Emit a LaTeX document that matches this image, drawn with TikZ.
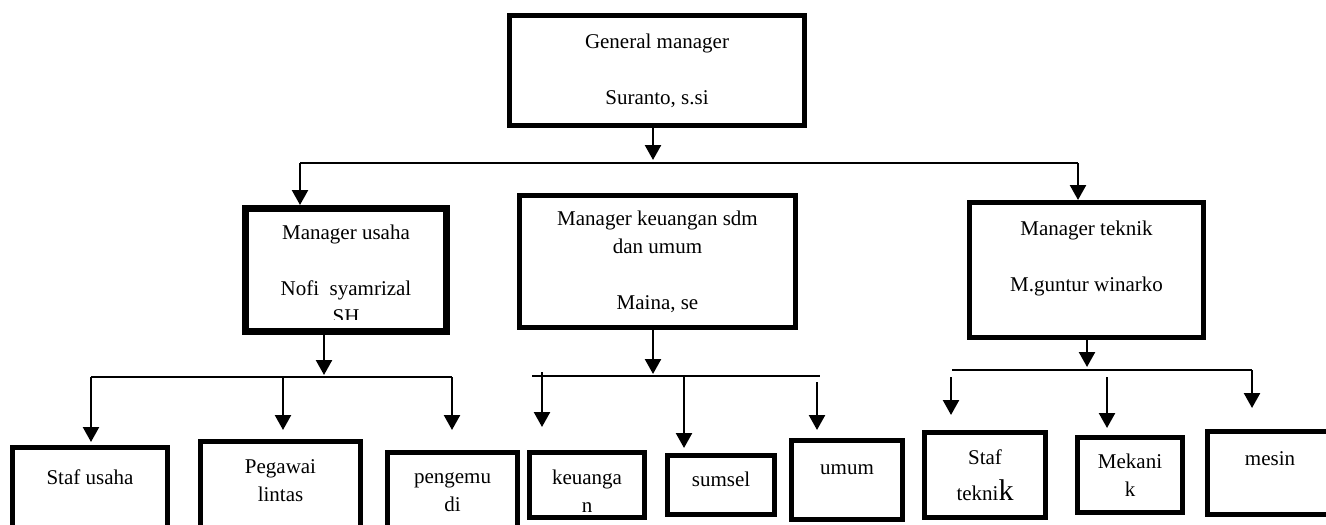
\documentclass[tikz,border=0pt]{standalone}
\usepackage{fontspec}
\setmainfont{Liberation Serif}
\usetikzlibrary{arrows.meta}

\tikzset{
  box/.style={draw, line width=2.5pt, align=center, inner sep=0pt,
    font=\fontsize{10.5}{14}\selectfont},
  bus/.style={line width=0.8pt},
  arr/.style={line width=1.2pt, -{Triangle[width=8pt,length=7.5pt]}},
}

\begin{document}
\begin{tikzpicture}[x=0.5pt,y=-0.5pt]
        \useasboundingbox (0,0) rectangle (1326,524);
        \clip (0,0) rectangle (1326,524);
        % managers
        \node[box, minimum width=147.5pt, minimum height=55pt] (gm) at (657,70.5) {General manager\\[14pt]Suranto, s.si};
        \node[box, line width=3.5pt, minimum width=100.5pt, minimum height=61.5pt] (usaha) at (346,270) {\rule{0pt}{12pt}Manager usaha\\[14pt]Nofi\ \ syamrizal\\SH};
        \node[box, minimum width=138pt, minimum height=66pt] (keu) at (657.5,261.5) {Manager keuangan sdm\\dan umum\\[14pt]Maina, se};
        \node[box, minimum width=117pt, minimum height=67.5pt] (teknik) at (1086.5,270) {Manager teknik\\[14pt]M.guntur winarko\\\mbox{}};
        % SH is cut off by the box
        \fill[white] (249,320) rectangle (443,327.5);
        % staff
        \node[box, minimum width=77.5pt, minimum height=57.5pt] (stafusaha) at (90,505) {Staf usaha\\\mbox{}\\\mbox{}};
        \node[box, minimum width=80pt, minimum height=53pt] (pegawai) at (280.5,494.5) {Pegawai\\lintas\\\mbox{}};
        \node[box, minimum width=65pt, minimum height=53.5pt] (pengemudi) at (452.5,506) {pengemu\\di\\\mbox{}};
        \node[box, minimum width=57.5pt, minimum height=32.5pt] (keuangan) at (587,485) {\rule{0pt}{13pt}keuanga\\n};
        \node[box, minimum width=53.5pt, minimum height=29.5pt, text depth=6pt] (sumsel) at (721,485) {sumsel};
        \node[box, minimum width=55.5pt, minimum height=39.5pt] (umum) at (847,480) {\rule{0pt}{8.7pt}umum\\\mbox{}};
        \node[box, minimum width=60.5pt, minimum height=42.5pt] (stafteknik) at (985,475) {Staf\\[4pt]tekni{\fontsize{15}{14}\selectfont k}};
        \node[box, minimum width=52.5pt, minimum height=37.5pt] (mekanik) at (1130,475) {Mekani\\k};
        \node[box, minimum width=75pt, minimum height=41.5pt] (mesin) at (1282,473) {mesin\hspace*{12pt}\\\mbox{}};
        % general manager -> managers
        \coordinate (gm-tip) at (653,160);
        \coordinate (bus0-l) at (300,163);
        \coordinate (bus0-r) at (1078,163);
        \draw[arr] (gm.south -| gm-tip) -- (gm-tip);
        \draw[bus] (bus0-l) -- (bus0-r);
        \draw[arr] (bus0-l) -- (bus0-l |- usaha.north);
        \draw[arr] (bus0-r) -- (bus0-r |- teknik.north);
        % manager usaha -> staff
        \coordinate (us-tip) at (324,375);
        \draw[arr] (usaha.south -| us-tip) -- (us-tip);
        \draw[bus] (91,377) -- (452,377);
        \foreach \x/\tgt/\gap in {91/stafusaha/1.5pt, 283/pegawai/4.5pt, 452/pengemudi/10pt}
            \draw[arr, shorten >=\gap] (\x,377) -- (\x,377 |- \tgt.north);
        % manager keuangan -> staff
        \coordinate (keu-tip) at (653,374);
        \draw[arr] (keu.south -| keu-tip) -- (keu-tip);
        \draw[bus] (532,376) -- (820,376);
        \foreach \x/\y/\tgt/\gap in {542/372/keuangan/11.5pt, 684/376/sumsel/2.5pt, 817/382/umum/4pt}
            \draw[arr, shorten >=\gap] (\x,\y) -- (\x,\y |- \tgt.north);
        % manager teknik -> staff
        \coordinate (tek-tip) at (1087,367);
        \draw[arr] (teknik.south -| tek-tip) -- (tek-tip);
        \draw[bus] (952,370) -- (1252,370);
        \foreach \x/\y/\tgt/\gap in {951/377/stafteknik/7.5pt, 1107/377/mekanik/3.5pt, 1252/370/mesin/10.5pt}
            \draw[arr, shorten >=\gap] (\x,\y) -- (\x,\y |- \tgt.north);
    \end{tikzpicture}
\end{document}
